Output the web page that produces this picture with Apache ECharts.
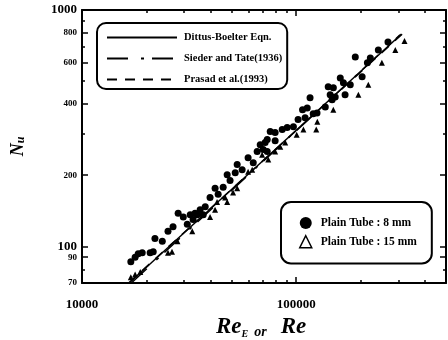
<!DOCTYPE html>
<html><head><meta charset="utf-8">
<script src="https://cdn.jsdelivr.net/npm/echarts@6/dist/echarts.min.js"></script>
<style>html,body{margin:0;padding:0;background:#fff}#c{width:448px;height:340px}</style>
</head><body><div id="c"></div>
<script>
// ---- axis ticks / labels ----
const xTickLabels = [10000, 100000];
const xMinorTicks = [20000, 30000, 40000, 50000, 60000, 70000, 80000, 90000, 200000, 300000, 400000];
const yTickLabels = [70, 90, 100, 200, 400, 600, 800, 1000];
const yMinorTicks = [80, 300, 500, 700, 900];

// ---- correlation lines (two end points each, log-log straight lines) ----
const dittusRe = [16760, 310000];
const dittusNu = [70.5, 792];
const siederRe = [17000, 305000];
const siederNu = [70, 785];
const prasadRe = [16500, 312000];
const prasadNu = [70, 790];

// ---- measurements ----
const tube8Re = [16900,17700,18300,19100,20800,21500,21900,23700,25200,26600,28100,29700,31000,32000,33000,34500,33700,35600,36800,37600,39600,41800,43200,45600,47600,49100,51900,53000,55900,59600,63000,65700,67900,71600,73200,70100,73200,75600,79700,79700,86000,90700,97000,102000,110000,107000,112500,116000,120000,125000,136600,141000,147000,152000,144000,149000,160500,166000,178700,169000,188600,203000,214800,221700,241600,268000];
const tube8Nu = [86,90,93,94,94,95,108,105,116,121,138,133,124,136,130,136,138,143,136,147,161,176,166,178,201,190,205,222,211,237,226,252,269,275,252,257,283,306,303,280,312,318,321,344,350,378,385,425,364,367,389,473,417,428,438,469,516,492,483,438,633,522,598,627,678,733];
const tube15Re = [16900,17700,18700,25200,26300,27900,32700,39600,41800,42700,46600,47600,50700,53000,59600,62300,69300,74000,79700,84200,88800,100500,108000,124000,125400,148900,195000,217000,251000,290000,320000];
const tube15Nu = [74,76,78,94,95,105,116,133,143,154,161,154,169,176,207,211,244,233,252,264,275,297,312,312,337,378,438,483,598,678,740];

const zip = (a, b) => a.map((v, i) => [v, b[i]]);
const serif = 'Liberation Serif';
const black = '#000';

function xAx(pos, ticks, len, withLine, withLabel) {
  return {
    type: 'log', logBase: 10, position: pos, min: 10000, max: 500000,
    axisLine: { show: withLine, lineStyle: { color: black, width: 2 } },
    axisTick: { show: true, inside: true, length: len, customValues: ticks, lineStyle: { color: black, width: 1.5 } },
    axisLabel: withLabel ? {
      show: true, customValues: xTickLabels, formatter: v => String(Math.round(v)),
      color: black, fontFamily: serif, fontWeight: 'bold', fontSize: 13, margin: 15
    } : { show: false },
    splitLine: { show: false }, minorTick: { show: false }
  };
}
function yAx(pos, ticks, len, withLine, withLabel) {
  return {
    type: 'log', logBase: 10, position: pos, min: 70, max: 1000,
    axisLine: { show: withLine, lineStyle: { color: black, width: 2 } },
    axisTick: { show: true, inside: true, length: len, customValues: ticks, lineStyle: { color: black, width: 1.5 } },
    axisLabel: withLabel ? {
      show: true, customValues: yTickLabels,
      formatter: v => { const r = Math.round(v); return (Math.abs(Math.log10(r) % 1) < 1e-9 ? '{b|' : '{s|') + r + '}'; },
      margin: 5,
      rich: {
        b: { color: black, fontFamily: serif, fontWeight: 'bold', fontSize: 13 },
        s: { color: black, fontFamily: serif, fontWeight: 'bold', fontSize: 9 }
      }
    } : { show: false },
    splitLine: { show: false }, minorTick: { show: false }
  };
}

const yMain = yAx('left', yTickLabels, 6, true, true);
yMain.name = '{n|N}{s|u}';
yMain.nameLocation = 'middle';
yMain.nameRotate = 90;
yMain.nameGap = 55;
yMain.nameTextStyle = {
  rich: {
    n: { fontFamily: serif, fontStyle: 'italic', fontWeight: 'bold', fontSize: 18, color: black, lineHeight: 20, verticalAlign: 'bottom' },
    s: { fontFamily: serif, fontStyle: 'italic', fontWeight: 'bold', fontSize: 12, color: black, lineHeight: 14, verticalAlign: 'bottom' }
  }
};

const chart = echarts.init(document.getElementById('c'), null, { renderer: 'canvas' });
chart.setOption({
  animation: false,
  backgroundColor: '#fff',
  grid: { left: 82, right: 2, top: 10, bottom: 57, containLabel: false },
  xAxis: [
    xAx('bottom', xTickLabels, 6, true, true),
    xAx('bottom', xMinorTicks, 3, false, false),
    xAx('top', xTickLabels, 6, true, false),
    xAx('top', xMinorTicks, 3, false, false)
  ],
  yAxis: [
    yMain,
    yAx('left', yMinorTicks, 3, false, false),
    yAx('right', yTickLabels, 6, true, false),
    yAx('right', yMinorTicks, 3, false, false)
  ],
  legend: [
    {
      left: 97, top: 23, orient: 'vertical', selectedMode: false,
      data: ['Dittus-Boelter Eqn.', 'Sieder and Tate(1936)', 'Prasad et al.(1993)'],
      itemWidth: 70, itemHeight: 10, itemGap: 10,
      padding: [9, 5, 4, 9],
      borderColor: black, borderWidth: 2, borderRadius: 9,
      itemStyle: { opacity: 0 },
      textStyle: { fontFamily: serif, fontWeight: 'bold', fontSize: 10.5, color: black, lineHeight: 10, padding: [0, 0, 0, 2] }
    },
    {
      left: 281, top: 202, orient: 'vertical', selectedMode: false,
      data: [
        { name: 'Plain Tube : 8 mm', icon: 'circle' },
        { name: 'Plain Tube : 15 mm', icon: 'triangle', itemStyle: { color: '#fff', borderColor: black, borderWidth: 1.5 } }
      ],
      itemWidth: 12, itemHeight: 12, itemGap: 6,
      padding: [15, 15, 15, 18],
      borderColor: black, borderWidth: 2, borderRadius: 10,
      textStyle: { fontFamily: serif, fontWeight: 'bold', fontSize: 11.5, color: black, lineHeight: 12, padding: [0, 0, 0, 4] }
    }
  ],
  graphic: [{
    type: 'text', left: 216, top: 316,
    style: {
      text: '{r|Re}{s|E }{o| or    }{r|Re}',
      rich: {
        r: { fontFamily: serif, fontStyle: 'italic', fontWeight: 'bold', fontSize: 23, fill: black, lineHeight: 24, verticalAlign: 'bottom' },
        s: { fontFamily: serif, fontStyle: 'italic', fontWeight: 'bold', fontSize: 10, fill: black, lineHeight: 13, verticalAlign: 'bottom' },
        o: { fontFamily: serif, fontStyle: 'italic', fontWeight: 'bold', fontSize: 14, fill: black, lineHeight: 18, verticalAlign: 'bottom' }
      }
    }
  }],
  series: [
    { name: 'Dittus-Boelter Eqn.', type: 'line', xAxisIndex: 0, yAxisIndex: 0, data: zip(dittusRe, dittusNu), symbol: 'none',
      lineStyle: { color: black, width: 1.5, type: 'solid' }, itemStyle: { color: black }, z: 3 },
    { name: 'Sieder and Tate(1936)', type: 'line', xAxisIndex: 0, yAxisIndex: 0, data: zip(siederRe, siederNu), symbol: 'none',
      lineStyle: { color: black, width: 1.5, type: [21, 13, 3, 8] }, itemStyle: { color: black }, z: 3 },
    { name: 'Prasad et al.(1993)', type: 'line', xAxisIndex: 0, yAxisIndex: 0, data: zip(prasadRe, prasadNu), symbol: 'none',
      lineStyle: { color: black, width: 1.5, type: [10, 8] }, itemStyle: { color: black }, z: 3 },
    { name: 'Plain Tube : 8 mm', type: 'scatter', xAxisIndex: 0, yAxisIndex: 0, data: zip(tube8Re, tube8Nu),
      symbol: 'circle', symbolSize: 7, itemStyle: { color: black, opacity: 1 } },
    { name: 'Plain Tube : 15 mm', type: 'scatter', xAxisIndex: 0, yAxisIndex: 0, data: zip(tube15Re, tube15Nu),
      symbol: 'triangle', symbolSize: 6, itemStyle: { color: black, opacity: 1 } }
  ]
});
</script>
</body></html>
